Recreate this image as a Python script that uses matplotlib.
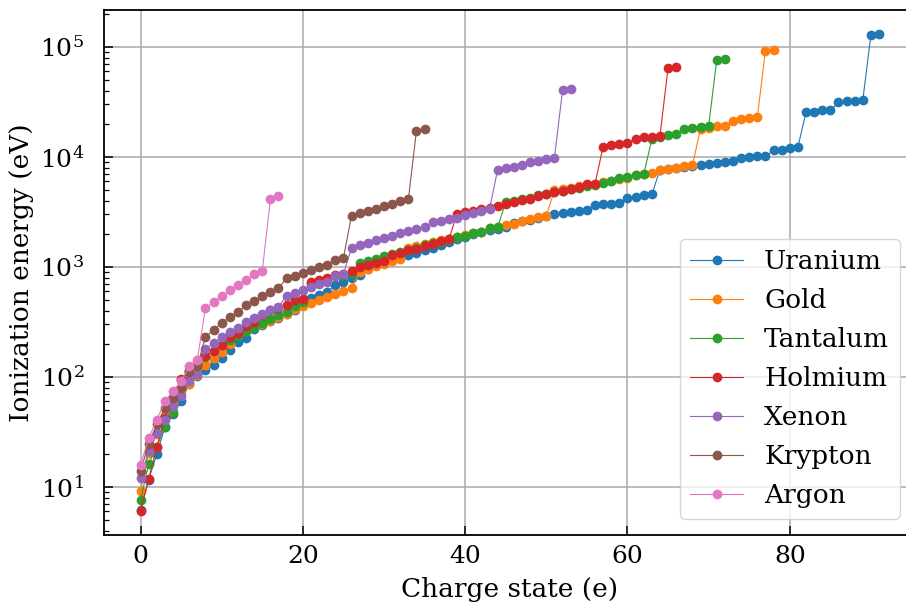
import matplotlib
matplotlib.use("Agg")
import matplotlib.pyplot as plt

uranium = [6.19, 11.6, 19.8, 35, 46, 60, 87, 102, 115, 129, 147, 174, 208, 227, 270, 295, 320, 345,
           375, 405, 470, 525, 551, 590, 680, 730, 790, 838, 964, 1033, 1107, 1187, 1240, 1271, 1334,
           1413, 1493, 1567, 1679, 1803, 1866, 1973, 2070, 2146, 2192, 2298, 2500, 2608, 2685, 2775,
           2890, 3000, 3080, 3150, 3215, 3305, 3620, 3700, 3750, 3800, 4255, 4305, 4465, 4550, 7640,
           7800, 7960, 8060, 8250, 8400, 8650, 8770, 8960, 9140, 9730, 9930, 10080, 10150, 11430,
           11600, 12100, 12250, 25500, 25800, 26400, 26400, 31400, 31900, 32500, 33000, 129300, 131300]

gold = [9.23, 20.2, 30, 44, 58, 73, 87, 103, 128, 147, 167, 197, 240, 262, 285, 305, 325, 350,
        375, 410, 440, 470, 500, 530, 565, 600, 640, 900, 960, 1010, 1070, 1130, 1190, 1480, 1540,
        1600, 1670, 1740, 1800, 1870, 1950, 2020, 2090, 2250, 2310, 2380, 2460, 2640, 2740, 2835,
        2920, 4960, 5100, 5250, 5400, 5560, 5700, 5850, 6000, 6330, 6450, 6800, 6950, 7110, 7520,
        7790, 7960, 8180, 8350, 18000, 18400, 18900, 19100, 21400, 21900, 22500, 22900, 92500, 94000]

tantalum = [7.55, 16.2, 23.1, 35, 48.3, 94, 114, 133, 153, 173, 193, 215, 237, 262, 285, 310, 335,
            362, 390, 440, 480, 700, 740, 780, 820, 850, 880, 1085, 1130, 1187, 1250, 1310, 1370,
            1430, 1500, 1570, 1640, 1700, 1780, 1866, 1893, 2030, 2070, 2250, 2300, 3860, 3980,
            4140, 4240, 4465, 4550, 4770, 4900, 5100, 5250, 5450, 5600, 5770, 6010, 6410, 6540,
            6780, 6920, 14500, 15100, 15900, 16200, 18000, 18400, 18600, 19000, 76700, 77800]

holmium = [6.02, 11.8, 22.84, 42.5, 63.9, 95, 112, 129, 155, 172, 194, 230, 250, 290, 315, 363,
           403, 426, 447, 497, 514, 728, 766, 798, 838, 856, 917, 997, 1050, 1090, 1140, 1290, 1336,
           1413, 1463, 1545, 1611, 1706, 1778, 3043, 3145, 3211, 3330, 3420, 3565, 3750, 3880, 4075,
           4160, 4390, 4550, 4770, 4880, 5130, 5300, 5610, 5700, 12400, 12700, 13040, 13300, 14600,
           15100, 15300, 15550, 64400, 65300]

xenon = [12.13, 20.98, 31.05, 40.9, 54.14, 66.70, 91.6, 105.98, 179.84, 202.0, 229.02, 255.0, 281,
         314, 343, 374, 404, 434, 549, 582, 616, 650, 700, 736, 818, 857, 1493, 1571, 1653, 1742,
         1826, 1919, 2023, 2113, 2209, 2300, 2556, 2637, 2726, 2811, 2975, 3068, 3243, 3333, 7660,
         7889, 8144, 8382, 8971, 9243, 9581, 9810, 40271, 41300]

krypton = [14.00, 24.36, 36.95, 52.5, 64.7, 78.5, 111.0, 125.8, 230.85, 268.2, 308, 350, 391, 447,
           492, 541, 592, 641, 786, 833, 884, 937, 998, 1051, 1151, 1205, 2928, 3070, 3227, 3381,
           3584, 3752, 3971, 4109, 17296, 17936]

argon = [15.76, 27.63, 40.74, 59.81, 75.02, 91.01, 124.32, 143.46, 422.45, 478.69, 538.96, 618.26,
         686.11, 755.74, 854.77, 918.03, 4120.89, 4426.23]

series = [("Uranium", uranium), ("Gold", gold), ("Tantalum", tantalum), ("Holmium", holmium),
          ("Xenon", xenon), ("Krypton", krypton), ("Argon", argon)]

plt.rcParams['font.family'] = ['DejaVu Serif']
plt.rcParams['mathtext.fontset'] = 'dejavuserif'

fig = plt.figure(figsize=(9.06, 6.05), dpi=100)
ax = fig.add_axes([103.6 / 906, 70 / 605, (916 - 103.6) / 906, 525 / 605])

for name, vals in series:
    ax.plot(range(len(vals)), vals, marker='o', markersize=6, linewidth=0.8, label=name)

ax.set_yscale('log')
ax.grid(True, color='#b0b0b0', linewidth=1.2)
ax.set_axisbelow(True)
ax.tick_params(which='both', direction='in', labelsize=18)
ax.tick_params(which='major', length=6.3, width=1.1)
ax.tick_params(which='minor', length=3.3, width=0.9)
ax.tick_params(axis='y', which='both', pad=14)
ax.tick_params(axis='x', which='both', pad=7)
for s in ax.spines.values():
    s.set_linewidth(1.3)
ax.set_xlabel("Charge state (e)", fontsize=19, labelpad=7)
ax.set_ylabel("Ionization energy (eV)", fontsize=19)
ax.legend(loc='lower right', fontsize=19, labelspacing=0.53, borderpad=0.4,
          borderaxespad=0.62)

fig.savefig("out.png", dpi=100)
